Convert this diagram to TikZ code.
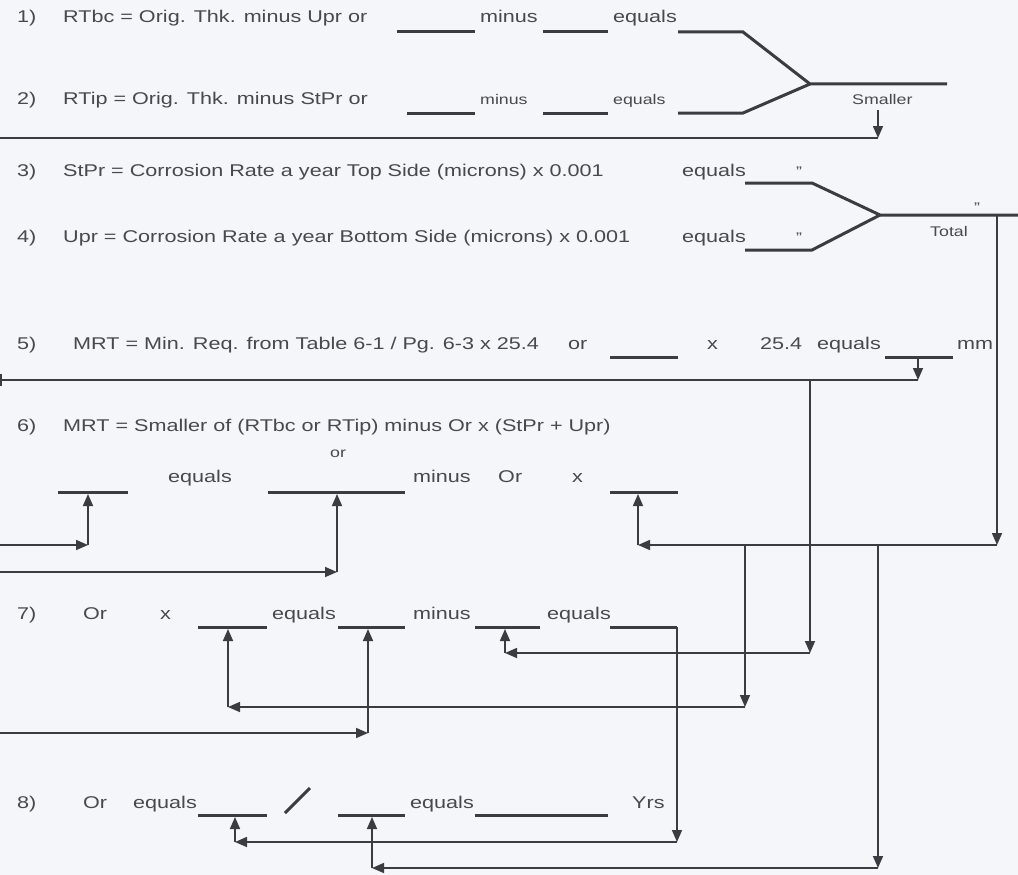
\documentclass[tikz,border=0pt]{standalone}
\usepackage{fontspec}
\setmainfont{Liberation Sans}[FakeStretch=1.27]
\usetikzlibrary{arrows.meta}
\definecolor{bgcol}{RGB}{244,246,249}
\definecolor{txtcol}{RGB}{72,72,78}
\definecolor{linecol}{RGB}{58,60,66}
\tikzset{
  txt/.style={inner sep=0pt, anchor=base west, text=txtcol, font=\fontsize{17}{20}\selectfont},
  smtxt/.style={txt, font=\fontsize{14}{16}\selectfont},
  blank/.style={draw=linecol, line width=3pt},
  conn/.style={draw=linecol, line width=1.6pt},
  arr/.style={conn, -{Triangle[length=12pt,width=10pt]}},
}
\begin{document}
\begin{tikzpicture}[x=1pt,y=-1pt]
\fill[bgcol] (0,0) rectangle (1018,875);
\useasboundingbox (0,0) rectangle (1018,875);

% ---------- Row 1
\node[txt] (n1) at (17,23) {1)};
\node[txt] (t1) at (63,23) {RTbc = Orig. Thk. minus Upr or};
\node[txt] (m1) at (480,23) {minus};
\node[txt] (e1) at (613,23) {equals};
\coordinate (b1aL) at (397,32); \coordinate (b1aR) at (475,32);
\coordinate (b1bL) at (543,32); \coordinate (b1bR) at (608,32);
\coordinate (b1cL) at (678,32); \coordinate (b1cR) at (743,32);
\coordinate (J1) at (810,84); \coordinate (J1out) at (947,84);
\draw[blank] (b1aL) -- (b1aR);
\draw[blank] (b1bL) -- (b1bR);
\draw[blank] (b1cL) -- (b1cR) -- (J1) -- (J1out);

% ---------- Row 2
\node[txt] (n2) at (17,104) {2)};
\node[txt] (t2) at (63,104) {RTip = Orig. Thk. minus StPr or};
\node[smtxt] (m2) at (480,104) {minus};
\node[smtxt] (e2) at (613,104) {equals};
\node[smtxt] (sm) at (852,104) {Smaller};
\coordinate (b2aL) at (407,113); \coordinate (b2aR) at (475,113);
\coordinate (b2bL) at (543,113); \coordinate (b2bR) at (608,113);
\coordinate (b2cL) at (678,113); \coordinate (b2cR) at (743,113);
\draw[blank] (b2aL) -- (b2aR);
\draw[blank] (b2bL) -- (b2bR);
\draw[blank] (b2cL) -- (b2cR) -- (J1);
\coordinate (s1) at (878,110); \coordinate (s2) at (878,138); \coordinate (s3) at (0,138);
\draw[arr] (s1) -- (s2);
\draw[conn] (s2) -- (s3);

% ---------- Row 3 / 4
\node[txt] (n3) at (17,176) {3)};
\node[txt] (t3) at (63,176) {StPr = Corrosion Rate a year Top Side (microns) x 0.001};
\node[txt] (e3) at (682,176) {equals};
\node[smtxt] (q3) at (796,176) {"};
\node[txt] (n4) at (17,242) {4)};
\node[txt] (t4) at (63,242) {Upr = Corrosion Rate a year Bottom Side (microns) x 0.001};
\node[txt] (e4) at (682,242) {equals};
\node[smtxt] (q4) at (796,242) {"};
\coordinate (b3L) at (745,183); \coordinate (b3R) at (812,183);
\coordinate (b4L) at (745,250); \coordinate (b4R) at (812,250);
\coordinate (J2) at (880,215); \coordinate (J2out) at (1018,215);
\draw[blank] (b3L) -- (b3R) -- (J2) -- (J2out);
\draw[blank] (b4L) -- (b4R) -- (J2);
\node[smtxt] (qt) at (974,212) {"};
\node[smtxt] (tot) at (930,236) {Total};
\coordinate (r1) at (997,215); \coordinate (r2) at (997,545);
\draw[arr] (r1) -- (r2);

% ---------- Row 5
\node[txt] (n5) at (17,349) {5)};
\node[txt] (t5) at (73,349) {MRT = Min. Req. from Table 6-1 / Pg. 6-3 x 25.4};
\node[txt] (o5) at (568,349) {or};
\node[txt] (x5) at (707,349) {x};
\node[txt] (k5) at (760,349) {25.4};
\node[txt] (e5) at (817,349) {equals};
\node[txt] (mm) at (957,349) {mm};
\coordinate (b5aL) at (610,357); \coordinate (b5aR) at (678,357);
\coordinate (b5bL) at (885,357); \coordinate (b5bR) at (953,357);
\draw[blank] (b5aL) -- (b5aR);
\draw[blank] (b5bL) -- (b5bR);
\coordinate (m1a) at (918,357); \coordinate (m1b) at (918,380); \coordinate (m1c) at (0,380);
\draw[arr] (m1a) -- (m1b);
\draw[conn] (m1b) -- (m1c);
\draw[conn] (1,374) -- (1,386);
\coordinate (v1a) at (810,380); \coordinate (v1b) at (810,653);
\draw[arr] (v1a) -- (v1b);

% ---------- Row 6
\node[txt] (n6) at (17,431) {6)};
\node[txt] (t6) at (63,431) {MRT = Smaller of (RTbc or RTip) minus Or x (StPr + Upr)};
\node[smtxt] (or6) at (330,457) {or};
\node[txt] (e6) at (168,482) {equals};
\node[txt] (m6) at (413,482) {minus};
\node[txt] (O6) at (498,482) {Or};
\node[txt] (x6) at (572,482) {x};
\coordinate (bAL) at (58,492); \coordinate (bAR) at (128,492);
\coordinate (bBL) at (268,492); \coordinate (bBR) at (405,492);
\coordinate (bCL) at (610,492); \coordinate (bCR) at (678,492);
\draw[blank] (bAL) -- (bAR);
\draw[blank] (bBL) -- (bBR);
\draw[blank] (bCL) -- (bCR);
\coordinate (a1) at (0,545); \coordinate (a2) at (88,545); \coordinate (a3) at (88,494);
\draw[arr] (a1) -- (a2); \draw[arr] (a2) -- (a3);
\coordinate (c1) at (0,572); \coordinate (c2) at (337,572); \coordinate (c3) at (337,494);
\draw[arr] (c1) -- (c2); \draw[arr] (c2) -- (c3);
\coordinate (d2) at (638,545); \coordinate (d3) at (638,494);
\draw[arr] (r2) -- (d2); \draw[arr] (d2) -- (d3);

% ---------- Row 7
\node[txt] (n7) at (17,619) {7)};
\node[txt] (O7) at (83,619) {Or};
\node[txt] (x7) at (160,619) {x};
\node[txt] (e7a) at (272,619) {equals};
\node[txt] (m7) at (413,619) {minus};
\node[txt] (e7b) at (547,619) {equals};
\coordinate (bDL) at (198,627); \coordinate (bDR) at (267,627);
\coordinate (bEL) at (338,627); \coordinate (bER) at (405,627);
\coordinate (bFL) at (475,627); \coordinate (bFR) at (540,627);
\coordinate (bGL) at (610,627); \coordinate (bGR) at (677,627);
\draw[blank] (bDL) -- (bDR);
\draw[blank] (bEL) -- (bER);
\draw[blank] (bFL) -- (bFR);
\draw[blank] (bGL) -- (bGR);
\coordinate (g2) at (677,842);
\draw[arr] (bGR) -- (g2);
\coordinate (f2) at (505,653); \coordinate (f3) at (505,629);
\draw[arr] (v1b) -- (f2); \draw[arr] (f2) -- (f3);
\coordinate (h1) at (745,545); \coordinate (h2) at (745,707); \coordinate (h3) at (228,707); \coordinate (h4) at (228,629);
\draw[arr] (h1) -- (h2); \draw[arr] (h2) -- (h3); \draw[arr] (h3) -- (h4);
\coordinate (i1) at (0,733); \coordinate (i2) at (368,733); \coordinate (i3) at (368,629);
\draw[arr] (i1) -- (i2); \draw[arr] (i2) -- (i3);

% ---------- Row 8
\node[txt] (n8) at (17,808) {8)};
\node[txt] (O8) at (83,808) {Or};
\node[txt] (e8a) at (133,808) {equals};
\node[txt] (e8b) at (410,808) {equals};
\node[txt] (yrs) at (632,808) {Yrs};
\coordinate (bHL) at (198,815); \coordinate (bHR) at (267,815);
\coordinate (bIL) at (338,815); \coordinate (bIR) at (405,815);
\coordinate (bJL) at (475,815); \coordinate (bJR) at (608,815);
\coordinate (slA) at (285,813); \coordinate (slB) at (310,788);
\draw[blank] (bHL) -- (bHR);
\draw[blank] (bIL) -- (bIR);
\draw[blank] (bJL) -- (bJR);
\draw[blank] (slA) -- (slB);
\coordinate (g3) at (235,842); \coordinate (g4) at (235,817);
\draw[arr] (g2) -- (g3); \draw[arr] (g3) -- (g4);
\coordinate (k1) at (878,545); \coordinate (k2) at (878,868); \coordinate (k3) at (372,868); \coordinate (k4) at (372,817);
\draw[arr] (k1) -- (k2); \draw[arr] (k2) -- (k3); \draw[arr] (k3) -- (k4);
\end{tikzpicture}
\end{document}
